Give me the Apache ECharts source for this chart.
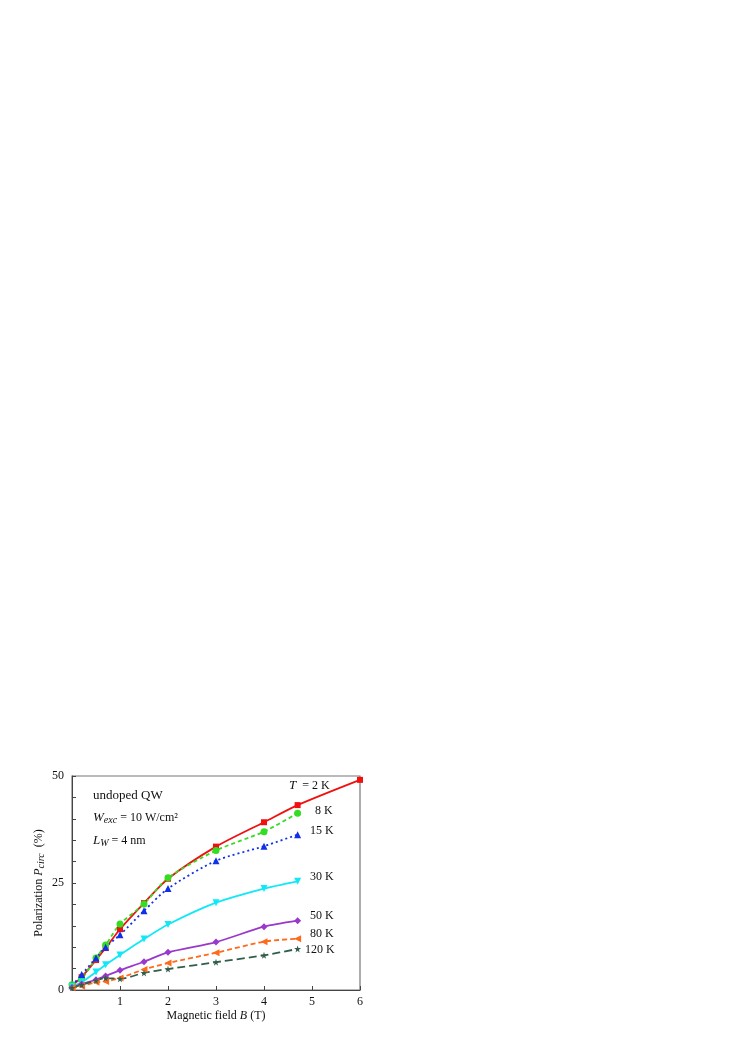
<!DOCTYPE html>
<html><head><meta charset="utf-8">
<script src="https://cdn.jsdelivr.net/npm/echarts@6/dist/echarts.min.js"></script>
<style>html,body{margin:0;padding:0;background:#fff}#c{width:747px;height:1056px}</style>
</head><body><div id="c"></div>
<script>
const xTicks = [0,1,2,3,4,5,6];
const yLabels = [0,25,50];
const seriesNames = ['T = 2 K','8 K','15 K','30 K','50 K','80 K','120 K'];
const s2K  = [[0,1.0],[0.2,3.0],[0.5,7.0],[0.7,9.8],[1,14.2],[1.5,20.3],[2,26.0],[3,33.5],[4,39.2],[4.7,43.2],[6,49.1]];
const s8K  = [[0,1.2],[0.2,2.6],[0.5,7.5],[0.7,10.5],[1,15.4],[1.5,20.1],[2,26.2],[3,32.6],[4,37.0],[4.7,41.3]];
const s15K = [[0,1.0],[0.2,3.6],[0.5,7.5],[0.7,10.0],[1,12.9],[1.5,18.5],[2,23.7],[3,30.2],[4,33.6],[4.7,36.3]];
const s30K = [[0,0.8],[0.2,1.8],[0.5,4.2],[0.7,5.9],[1,8.2],[1.5,11.9],[2,15.3],[3,20.4],[4,23.7],[4.7,25.4]];
const s50K = [[0,0.6],[0.2,1.4],[0.5,2.4],[0.7,3.3],[1,4.6],[1.5,6.6],[2,8.8],[3,11.2],[4,14.8],[4.7,16.2]];
const s80K = [[0,0.5],[0.2,0.9],[0.5,1.8],[0.7,2.0],[1,2.8],[1.5,4.8],[2,6.3],[3,8.7],[4,11.3],[4.7,12.0]];
const s120K= [[0,0.5],[0.2,1.2],[0.5,2.2],[0.7,2.8],[1,2.6],[1.5,4.0],[2,4.9],[3,6.5],[4,8.1],[4.7,9.6]];

const FONT = '"Liberation Serif", "DejaVu Serif", serif';
const star = 'path://M50,0 L61,35 L98,35 L68,57 L79,91 L50,70 L21,91 L32,57 L2,35 L39,35 Z';

function mk(name, data, color, symbol, dash, rot, size){
  return {
    name, type:'line', data, smooth:0.25, symbol, symbolSize:size||6, symbolRotate:rot||0,
    itemStyle:{color}, lineStyle:{color, width:1.8, type: dash||'solid'},
    z: 3
  };
}
const chart = echarts.init(document.getElementById('c'), null, {renderer:'canvas'});
const axisCol = '#444';
chart.setOption({
  animation:false,
  backgroundColor:'#fff',
  grid:{left:72, right:387, top:776, bottom:66, show:true, borderColor:'#777', borderWidth:1.2},
  xAxis:{type:'value', min:0, max:6, interval:1,
    axisLine:{show:true, lineStyle:{color:axisCol, width:1}},
    axisTick:{inside:true, length:4, lineStyle:{color:axisCol}},
    splitLine:{show:false},
    axisLabel:{fontFamily:FONT, fontSize:12, color:'#111', margin:6,
      formatter:v => v===0 ? '' : String(v)},
    name:'{n|Magnetic field }{i|B}{n| (T)}', nameLocation:'middle', nameGap:20,
    nameTextStyle:{rich:{n:{fontFamily:FONT,fontSize:12,color:'#111'},i:{fontFamily:FONT,fontSize:12,fontStyle:'italic',color:'#111'}}}
  },
  yAxis:{type:'value', min:0, max:50, interval:5,
    axisLine:{show:true, lineStyle:{color:axisCol, width:1}},
    axisTick:{inside:true, length:4, lineStyle:{color:axisCol}},
    splitLine:{show:false},
    axisLabel:{fontFamily:FONT, fontSize:12, color:'#111', margin:8,
      formatter:v => yLabels.indexOf(v)>=0 ? String(v) : ''},
    name:'{n|Polarization }{i|P}{s|circ}{n|  (%)}', nameLocation:'middle', nameGap:26,
    nameTextStyle:{rich:{
      n:{fontFamily:FONT,fontSize:12,color:'#111'},
      i:{fontFamily:FONT,fontSize:12,fontStyle:'italic',color:'#111'},
      s:{fontFamily:FONT,fontSize:10,fontStyle:'italic',color:'#111',padding:[5,0,0,0]}}}
  },
  series:[
    mk(seriesNames[0], s2K, '#f01010','rect','solid',0,6),
    mk(seriesNames[1], s8K, '#33dd22','circle',[4,3],0,7),
    mk(seriesNames[2], s15K,'#1030e8','triangle',[2,3],0,7),
    mk(seriesNames[3], s30K,'#10e8f8','triangle','solid',180,7),
    mk(seriesNames[4], s50K,'#9a38cc','diamond','solid',0,7),
    mk(seriesNames[5], s80K,'#ff6a1a','triangle',[5,3],90,7),
    mk(seriesNames[6], s120K,'#2f5f4a',star,[8,4],0,7)
  ],
  graphic:[
    {type:'text', left:93, top:789, style:{text:'undoped QW', font:'13px '+FONT, fill:'#111'}},
    {type:'text', left:93, top:811, style:{text:'{i|W}{s|exc}{n| = 10 W/cm²}', rich:{
      i:{fontFamily:FONT,fontSize:13,fontStyle:'italic',fill:'#111'},
      s:{fontFamily:FONT,fontSize:10,fontStyle:'italic',fill:'#111',padding:[6,0,0,0]},
      n:{fontFamily:FONT,fontSize:12,fill:'#111'}}}},
    {type:'text', left:93, top:834, style:{text:'{i|L}{s|W}{n| = 4 nm}', rich:{
      i:{fontFamily:FONT,fontSize:13,fontStyle:'italic',fill:'#111'},
      s:{fontFamily:FONT,fontSize:10,fontStyle:'italic',fill:'#111',padding:[6,0,0,0]},
      n:{fontFamily:FONT,fontSize:12,fill:'#111'}}}},
    {type:'text', left:289, top:779, style:{text:'{i|T}{n|  = 2 K}', rich:{
      i:{fontFamily:FONT,fontSize:13,fontStyle:'italic',fill:'#111'},
      n:{fontFamily:FONT,fontSize:12,fill:'#111'}}}},
    {type:'text', left:315, top:805, style:{text:'8 K', font:'12px '+FONT, fill:'#111'}},
    {type:'text', left:310, top:825, style:{text:'15 K', font:'12px '+FONT, fill:'#111'}},
    {type:'text', left:310, top:871, style:{text:'30 K', font:'12px '+FONT, fill:'#111'}},
    {type:'text', left:310, top:910, style:{text:'50 K', font:'12px '+FONT, fill:'#111'}},
    {type:'text', left:310, top:928, style:{text:'80 K', font:'12px '+FONT, fill:'#111'}},
    {type:'text', left:305, top:944, style:{text:'120 K', font:'12px '+FONT, fill:'#111'}}
  ]
});
</script></body></html>
